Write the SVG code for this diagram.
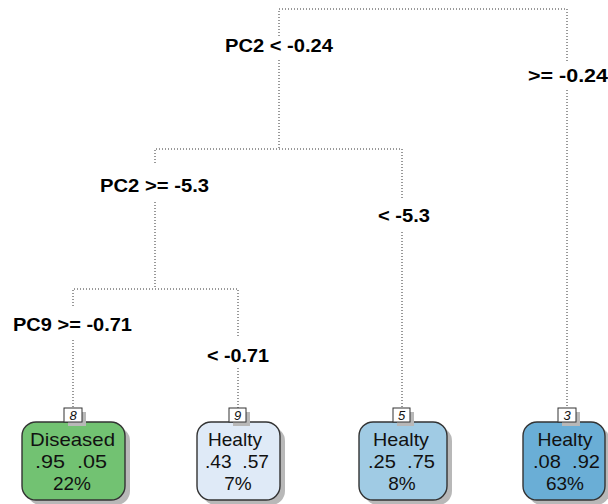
<svg xmlns="http://www.w3.org/2000/svg" width="608" height="504" viewBox="0 0 608 504">
  <style>
    .edge { fill: none; stroke: #333; stroke-width: 1; stroke-dasharray: 1 2; }
    .split { font-family: "Liberation Sans", Arial, sans-serif; font-weight: bold; font-size: 18px; fill: #000; }
    .box { stroke: #333; stroke-width: 1.4; }
    .shadow { fill: #b8b8b8; }
    .txt { font-family: "Liberation Sans", Arial, sans-serif; font-size: 19px; fill: #111; text-anchor: middle; white-space: pre; }
    .num { font-family: "Liberation Sans", Arial, sans-serif; font-size: 13px; font-style: italic; fill: #111; text-anchor: middle; }
    .tag { fill: #fff; stroke: #333; stroke-width: 1; }
  </style>
  <rect width="608" height="504" fill="#fff"/>

  <!-- connectors -->
  <g id="edges">
    <path class="edge" d="M279 36 V9 H567 V62"/>
    <path class="edge" d="M279 60 V149"/>
    <path class="edge" d="M567 90 V408"/>
    <path class="edge" d="M155 163 V149 H402 V198"/>
    <path class="edge" d="M155 202 V289"/>
    <path class="edge" d="M402 232 V408"/>
    <path class="edge" d="M73 306 V289 H238 V338"/>
    <path class="edge" d="M73 340 V408"/>
    <path class="edge" d="M238 368 V408"/>
  </g>

  <!-- split labels -->
  <g id="labels">
    <text class="split" x="225" y="52" textLength="108" lengthAdjust="spacingAndGlyphs">PC2 &lt; -0.24</text>
    <text class="split" x="528" y="82" textLength="80" lengthAdjust="spacingAndGlyphs">&gt;= -0.24</text>
    <text class="split" x="100" y="192" textLength="109" lengthAdjust="spacingAndGlyphs">PC2 &gt;= -5.3</text>
    <text class="split" x="378" y="222" textLength="52" lengthAdjust="spacingAndGlyphs">&lt; -5.3</text>
    <text class="split" x="13" y="331" textLength="119" lengthAdjust="spacingAndGlyphs">PC9 &gt;= -0.71</text>
    <text class="split" x="207" y="362" textLength="62" lengthAdjust="spacingAndGlyphs">&lt; -0.71</text>
  </g>

  <!-- leaf 8 -->
  <g id="node8">
    <rect class="shadow" x="27" y="427" width="103" height="78" rx="14"/>
    <rect class="box" x="22" y="422" width="103" height="78" rx="14" fill="#72c272"/>
    <rect class="shadow" x="68" y="412" width="18" height="14"/>
    <rect class="tag" x="64" y="408" width="18" height="14"/>
    <text class="num" x="73" y="420">8</text>
    <text class="txt" x="72.5" y="446" textLength="85" lengthAdjust="spacingAndGlyphs">Diseased</text>
    <text class="txt" x="71" y="468" xml:space="preserve" textLength="72" lengthAdjust="spacingAndGlyphs">.95  .05</text>
    <text class="txt" x="72" y="490">22%</text>
  </g>

  <!-- leaf 9 -->
  <g id="node9">
    <rect class="shadow" x="202" y="427" width="83" height="78" rx="14"/>
    <rect class="box" x="197" y="422" width="83" height="78" rx="14" fill="#dfeaf7"/>
    <rect class="shadow" x="233" y="412" width="17" height="14"/>
    <rect class="tag" x="229" y="408" width="17" height="14"/>
    <text class="num" x="237.5" y="420">9</text>
    <text class="txt" x="235" y="446" textLength="54" lengthAdjust="spacingAndGlyphs">Healty</text>
    <text class="txt" x="237" y="468" xml:space="preserve" textLength="64" lengthAdjust="spacingAndGlyphs">.43  .57</text>
    <text class="txt" x="238" y="490">7%</text>
  </g>

  <!-- leaf 5 -->
  <g id="node5">
    <rect class="shadow" x="364" y="427" width="88" height="78" rx="14"/>
    <rect class="box" x="359" y="422" width="88" height="78" rx="14" fill="#a0cbe4"/>
    <rect class="shadow" x="397" y="412" width="17" height="14"/>
    <rect class="tag" x="393" y="408" width="17" height="14"/>
    <text class="num" x="401.5" y="420">5</text>
    <text class="txt" x="401" y="446" textLength="56" lengthAdjust="spacingAndGlyphs">Healty</text>
    <text class="txt" x="401.5" y="468" xml:space="preserve" textLength="67" lengthAdjust="spacingAndGlyphs">.25  .75</text>
    <text class="txt" x="402" y="490">8%</text>
  </g>

  <!-- leaf 3 -->
  <g id="node3">
    <rect class="shadow" x="528" y="427" width="82" height="78" rx="14"/>
    <rect class="box" x="523" y="422" width="82" height="78" rx="14" fill="#6aaed6"/>
    <rect class="shadow" x="562" y="412" width="18" height="14"/>
    <rect class="tag" x="558" y="408" width="18" height="14"/>
    <text class="num" x="567" y="420">3</text>
    <text class="txt" x="565" y="446" textLength="55" lengthAdjust="spacingAndGlyphs">Healty</text>
    <text class="txt" x="566.5" y="468" xml:space="preserve" textLength="67" lengthAdjust="spacingAndGlyphs">.08  .92</text>
    <text class="txt" x="565" y="490">63%</text>
  </g>
</svg>
